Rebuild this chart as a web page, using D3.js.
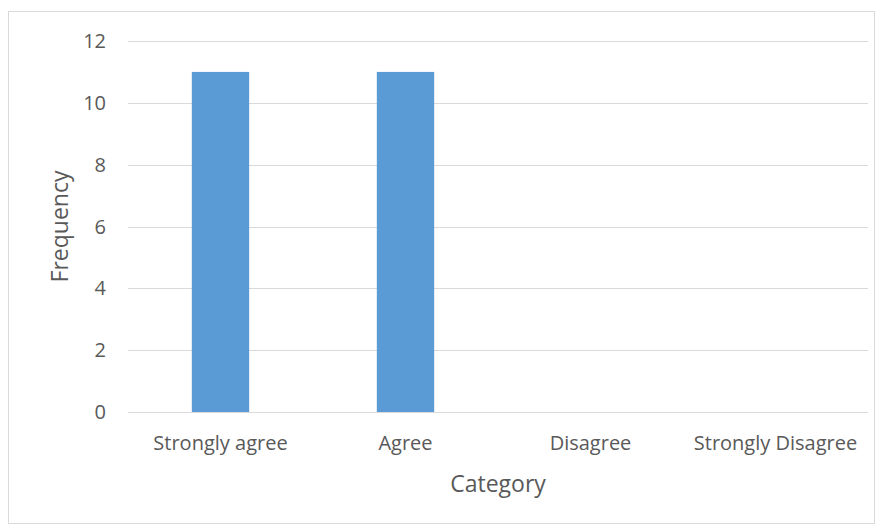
<!DOCTYPE html>
<html>
<head>
<meta charset="utf-8">
<script src="https://cdn.jsdelivr.net/npm/d3@7"></script>
<style>
  body { margin: 0; background: #fff; }
  text { font-family: "Open Sans", sans-serif; fill: #595959; }
</style>
</head>
<body>
<div id="chart"></div>
<script>
const categories = ["Strongly agree", "Agree", "Disagree", "Strongly Disagree"];
const frequencies = [11, 11, 0, 0];
const yTicks = [0, 2, 4, 6, 8, 10, 12];

const width = 883, height = 527;
const margin = { top: 41, right: 15, bottom: 115, left: 128 };

const svg = d3.select("#chart").append("svg")
    .attr("width", width)
    .attr("height", height);

// outer chart frame
svg.append("rect")
    .attr("x", 8.5).attr("y", 11.5)
    .attr("width", 866).attr("height", 512)
    .attr("fill", "none")
    .attr("stroke", "#d9d9d9");

const x = d3.scaleBand()
    .domain(categories)
    .range([margin.left, width - margin.right])
    .paddingInner(0.69)
    .paddingOuter(0.345);

const y = d3.scaleLinear()
    .domain([0, 12])
    .range([height - margin.bottom, margin.top]);

// gridlines
svg.append("g")
    .selectAll("line")
    .data(yTicks)
    .join("line")
    .attr("x1", margin.left)
    .attr("x2", width - margin.right)
    .attr("y1", d => Math.round(y(d)) + 0.5)
    .attr("y2", d => Math.round(y(d)) + 0.5)
    .attr("stroke", "#d9d9d9")
    .attr("stroke-width", 1);

// y tick labels
svg.append("g")
    .selectAll("text")
    .data(yTicks)
    .join("text")
    .attr("x", 106)
    .attr("y", d => y(d))
    .attr("dy", "0.35em")
    .attr("text-anchor", "end")
    .attr("font-size", 20)
    .text(d => d);

// bars
svg.append("g")
    .selectAll("rect")
    .data(frequencies)
    .join("rect")
    .attr("x", (d, i) => x(categories[i]))
    .attr("y", d => y(d))
    .attr("width", x.bandwidth())
    .attr("height", d => y(0) - y(d))
    .attr("fill", "#5b9bd5");

// category labels
svg.append("g")
    .selectAll("text")
    .data(categories)
    .join("text")
    .attr("x", d => x(d) + x.bandwidth() / 2)
    .attr("y", 443)
    .attr("dy", "0.35em")
    .attr("text-anchor", "middle")
    .attr("font-size", 20)
    .text(d => d);

// axis titles
svg.append("text")
    .attr("x", (margin.left + width - margin.right) / 2)
    .attr("y", 484)
    .attr("dy", "0.35em")
    .attr("text-anchor", "middle")
    .attr("font-size", 23)
    .text("Category");

svg.append("text")
    .attr("transform", `translate(60, ${(margin.top + height - margin.bottom) / 2}) rotate(-90)`)
    .attr("dy", "0.35em")
    .attr("text-anchor", "middle")
    .attr("font-size", 23)
    .text("Frequency");
</script>
</body>
</html>
